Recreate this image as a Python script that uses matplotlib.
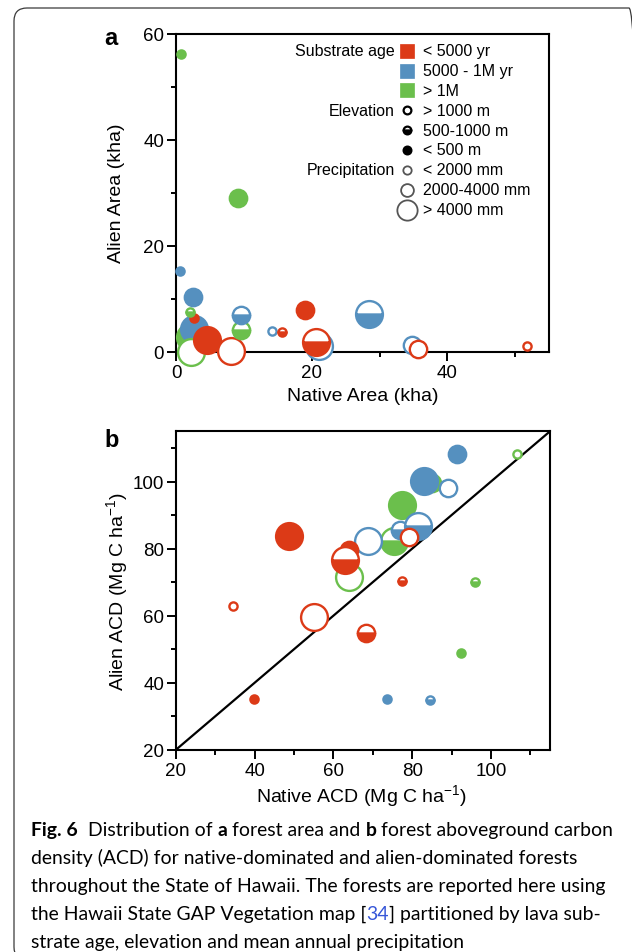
import matplotlib
matplotlib.use("Agg")
import matplotlib.pyplot as plt
from matplotlib.patches import FancyBboxPatch
from matplotlib.ticker import MultipleLocator

plt.rcParams['font.family'] = ['Liberation Sans', 'DejaVu Sans']
plt.rcParams['mathtext.fontset'] = 'custom'
plt.rcParams['mathtext.rm'] = 'Liberation Sans'
plt.rcParams['mathtext.it'] = 'Liberation Sans:italic'

# substrate age classes, elevation classes, precipitation classes
age_labels = ['< 5000 yr', '5000 - 1M yr', '> 1M']
age_colors = ['#dc3a17', '#5590bf', '#6bbf4c']
elev_labels = ['> 1000 m', '500-1000 m', '< 500 m']
precip_labels = ['< 2000 mm', '2000-4000 mm', '> 4000 mm']

# panel a: forest area (kha)
a_native = [2.1, 2.7, 2.2, 4.6, 8.1, 2.6, 2.0, 2.55, 0.6, 0.7, 9.1,
            9.6, 9.6, 14.2, 15.6, 19.0, 21.1, 20.7, 28.5, 34.7, 35.7, 51.7]
a_alien = [2.7, 4.2, 0.0, 2.2, 0.2, 6.3, 7.5, 10.4, 15.3, 56.1, 29.0,
           4.1, 6.9, 3.85, 3.65, 7.9, 1.0, 1.8, 7.1, 1.3, 0.5, 1.1]
a_age = [2, 1, 2, 0, 0, 0, 2, 1, 1, 2, 2, 2, 1, 1, 0, 0, 1, 0, 1, 1, 0, 0]
a_elev = [2, 2, 0, 2, 0, 2, 1, 2, 2, 2, 2, 1, 1, 0, 1, 2, 0, 1, 1, 0, 0, 0]
a_precip = [2, 2, 2, 2, 2, 0, 0, 1, 0, 0, 1, 1, 1, 0, 0, 1, 2, 2, 2, 1, 1, 0]

# panel b: aboveground carbon density (Mg C/ha)
b_native = [85.0, 83.0, 89.0, 91.3, 106.6, 77.5, 75.4, 68.8, 77.0, 81.5, 79.2, 48.6,
            63.9, 63.9, 62.9, 77.4, 95.9, 34.6, 55.0, 68.3, 92.4, 39.7, 73.5, 84.5]
b_alien = [99.5, 100.1, 98.2, 108.3, 108.1, 92.9, 82.3, 82.3, 85.7, 86.8, 83.6, 83.8,
           71.4, 79.5, 76.5, 70.2, 70.1, 62.9, 59.5, 54.7, 49.0, 35.1, 35.1, 34.7]
b_age = [2, 1, 1, 1, 2, 2, 2, 1, 1, 1, 0, 0, 2, 0, 0, 0, 2, 0, 0, 0, 2, 0, 1, 1]
b_elev = [2, 2, 0, 2, 0, 2, 1, 0, 1, 1, 0, 2, 0, 2, 1, 1, 1, 0, 0, 1, 2, 2, 2, 1]
b_precip = [1, 2, 1, 1, 0, 2, 2, 2, 1, 2, 1, 2, 2, 1, 2, 0, 0, 0, 2, 1, 0, 0, 0, 0]

W, H = 632, 953
fig = plt.figure(figsize=(W / 100, H / 100), dpi=100)


def fx(px):
    return px / W


def fy(py):
    return 1 - py / H


# outer diameters in points for the three precipitation classes
outer = [7.6, 14.2, 21.0]
edge_w = 1.7


def draw_point(ax, x, y, age, elev, precip, **kw):
    c = age_colors[age]
    style = ['full', 'bottom', 'full'][elev]
    face = 'white' if elev == 0 else c
    ax.plot([x], [y], marker='o', ms=outer[precip] - edge_w, mew=edge_w,
            mec=c, mfc=face, fillstyle=style, markerfacecoloralt='white',
            linestyle='none', clip_on=False, zorder=3, **kw)


def style_axes(ax):
    for s in ax.spines.values():
        s.set_linewidth(1.5)
    ax.xaxis.set_major_locator(MultipleLocator(20))
    ax.xaxis.set_minor_locator(MultipleLocator(10))
    ax.yaxis.set_major_locator(MultipleLocator(20))
    ax.yaxis.set_minor_locator(MultipleLocator(10))
    ax.tick_params(which='major', length=6.5, width=1.4, labelsize=13.5, pad=2)
    ax.tick_params(which='minor', length=3.3, width=1.4)


# ---- panel a ----
ax1 = fig.add_axes([fx(176), fy(352.7), fx(549.3 - 176), (352.7 - 34.5) / H])
ax1.set_xlim(0, 55)
ax1.set_ylim(0, 60)
style_axes(ax1)
for i in range(len(a_native)):
    draw_point(ax1, a_native[i], a_alien[i], a_age[i], a_elev[i], a_precip[i])

fig.text(fx(111), fy(45), 'a', fontsize=17, fontweight='bold', ha='center', va='baseline')
fig.text(fx(117), fy(193.6), 'Alien Area (kha)', fontsize=14, rotation=90, ha='center', va='center')
fig.text(fx(363), fy(397), 'Native Area (kha)', fontsize=14, ha='center', va='center')

# legend block
row0, step = 51.7, 19.85
title_x, sym_x, lab_x = 395, 407, 423
gray = '#555555'
leg = dict(transform=fig.transFigure, clip_on=False, linestyle='none', zorder=5)
for title, row in [('Substrate age', 0), ('Elevation', 3), ('Precipitation', 6)]:
    fig.text(fx(title_x), fy(row0 + row * step), title, fontsize=11.5, ha='right', va='center')
labels = age_labels + elev_labels + precip_labels
for k, lab in enumerate(labels):
    fig.text(fx(lab_x), fy(row0 + k * step), lab, fontsize=11.5, ha='left', va='center')
for k in range(3):
    yy = fy(row0 + k * step)
    ax1.plot([fx(sym_x)], [yy], marker='s', ms=10, mfc=age_colors[k], mec=age_colors[k], mew=0.5, **leg)
for k in range(3):
    yy = fy(row0 + (3 + k) * step)
    ax1.plot([fx(sym_x)], [yy], marker='o', ms=5.6, mew=1.6, mec='black',
             mfc='white' if k == 0 else 'black', fillstyle=['full', 'bottom', 'full'][k],
             markerfacecoloralt='white', **leg)
for k, d in enumerate([6.0, 9.2, 14.6]):
    yy = fy(row0 + (6 + k) * step)
    ax1.plot([fx(sym_x)], [yy], marker='o', ms=d, mew=1.3, mec=gray, mfc='white', **leg)

# ---- panel b ----
ax2 = fig.add_axes([fx(176), fy(750.7), fx(550 - 176), (750.7 - 432.3) / H])
ax2.set_xlim(20, 115)
ax2.set_ylim(20, 115)
style_axes(ax2)
ax2.plot([20, 115], [20, 115], color='black', lw=1.6, zorder=2)
for i in range(len(b_native)):
    draw_point(ax2, b_native[i], b_alien[i], b_age[i], b_elev[i], b_precip[i])

fig.text(fx(112), fy(446.7), 'b', fontsize=17, fontweight='bold', ha='center', va='baseline')
fig.text(fx(117), fy(591.5), 'Alien ACD (Mg C ha$^{-1}$)', fontsize=14, rotation=90, ha='center', va='center')
fig.text(fx(362), fy(796), 'Native ACD (Mg C ha$^{-1}$)', fontsize=14, ha='center', va='center')

# ---- frame and caption ----
frame = FancyBboxPatch((0.14, -0.08), 6.28, 9.52, boxstyle='round,pad=0,rounding_size=0.13',
                       transform=fig.dpi_scale_trans, fill=False, ec='#3a3a3a', lw=0.9)
fig.add_artist(frame)

renderer = fig.canvas.get_renderer()
cap_font = 'Lato'
blue_ref = '#3656d8'
caption = [
    [('Fig. 6', 'bold', 'black'), ('  Distribution of ', 'normal', 'black'), ('a', 'bold', 'black'),
     (' forest area and ', 'normal', 'black'), ('b', 'bold', 'black'),
     (' forest aboveground carbon', 'normal', 'black')],
    [('density (ACD) for native-dominated and alien-dominated forests', 'normal', 'black')],
    [('throughout the State of Hawaii. The forests are reported here using', 'normal', 'black')],
    [('the Hawaii State GAP Vegetation map [', 'normal', 'black'), ('34', 'normal', blue_ref),
     ('] partitioned by lava sub-', 'normal', 'black')],
    [('strate age, elevation and mean annual precipitation', 'normal', 'black')],
]


def draw_line(runs, x0, y0, size, visible=True):
    x = x0
    for txt, weight, color in runs:
        t = fig.text(fx(x), fy(y0), txt, fontfamily=cap_font, fontsize=size,
                     fontweight=weight, color=color, ha='left', va='baseline')
        x += t.get_window_extent(renderer=renderer).width
        if not visible:
            t.remove()
    return x - x0


# scale the caption so the first line fills the text column
test = draw_line(caption[0], 0, 0, 10, visible=False)
cap_size = 10 * (614 - 31) / test
for k, runs in enumerate(caption):
    draw_line(runs, 31, 836 + k * 28, cap_size)

fig.savefig('out.png', dpi=100)
